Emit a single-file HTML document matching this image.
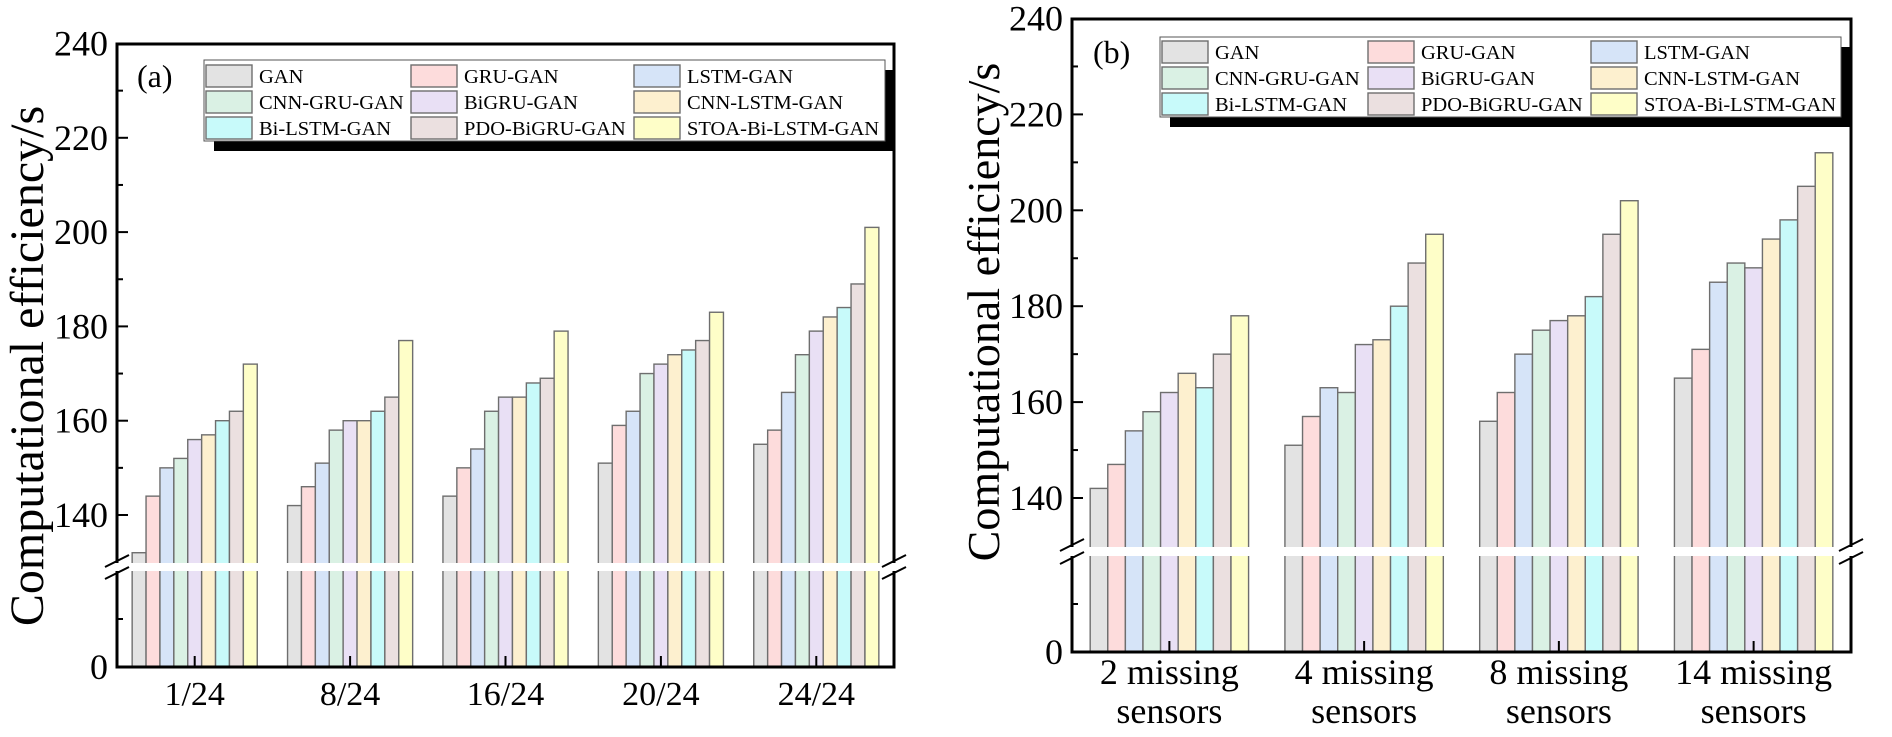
<!DOCTYPE html>
<html><head><meta charset="utf-8"><style>
html,body{margin:0;padding:0;background:#fff;}
svg{display:block;font-family:"Liberation Serif",serif;}
</style></head><body>
<svg id="c" width="1892" height="737"></svg>
<script>
const seriesNames=["GAN","GRU-GAN","LSTM-GAN","CNN-GRU-GAN","BiGRU-GAN","CNN-LSTM-GAN","Bi-LSTM-GAN","PDO-BiGRU-GAN","STOA-Bi-LSTM-GAN"];
const seriesColors=["#e3e3e3","#fddcdc","#d6e4f8","#daf1e4","#e9e0f5","#fdf0cf","#c8fafa","#ebe0e0","#fefec8"];
const catsA=["1/24","8/24","16/24","20/24","24/24"];
const catsB=[["2 missing","sensors"],["4 missing","sensors"],["8 missing","sensors"],["14 missing","sensors"]];
const ganA=[132,142,144,151,155];
const gruA=[144,146,150,159,158];
const lstmA=[150,151,154,162,166];
const cnnGruA=[152,158,162,170,174];
const biGruA=[156,160,165,172,179];
const cnnLstmA=[157,160,165,174,182];
const biLstmA=[160,162,168,175,184];
const pdoA=[162,165,169,177,189];
const stoaA=[172,177,179,183,201];
const ganB=[142,151,156,165];
const gruB=[147,157,162,171];
const lstmB=[154,163,170,185];
const cnnGruB=[158,162,175,189];
const biGruB=[162,172,177,188];
const cnnLstmB=[166,173,178,194];
const biLstmB=[163,180,182,198];
const pdoB=[170,189,195,205];
const stoaB=[178,195,202,212];
const ticksUpper=[140,160,180,200,220,240];
const minorUpper=[150,170,190,210,230];

const NS="http://www.w3.org/2000/svg";
const svg=document.getElementById('c');
function mk(tag,attrs,parent,text){const e=document.createElementNS(NS,tag);for(const k in attrs)e.setAttribute(k,attrs[k]);if(text!==undefined)e.textContent=text;(parent||svg).appendChild(e);return e;}

function panel(cfg){
  const g=mk('g',{});
  
  
  const y=v=>cfg.y140-(v-140)*cfg.per20/20;
  const n=cfg.cats.length, pitch=(cfg.right-cfg.left)/n;
  const bw=cfg.bw;
  cfg.data.forEach((arr,si)=>{
    arr.forEach((v,ci)=>{
      const cx=cfg.left+pitch*(ci+0.5);
      const x=cx-bw*4.5+si*bw;
      const top=y(v);
      const r=mk('rect',{x:x,y:top,width:bw,height:cfg.base-top,fill:seriesColors[si],stroke:'#6e6e6e','stroke-width':1.4},g);
      
      
    });
  });
  const gap=mk('rect',{x:cfg.left+2,y:cfg.gapTop,width:cfg.right-cfg.left-4,height:cfg.gapBot-cfg.gapTop,fill:'#fff'},g);
  
  
  const fr=mk('path',{d:`M${cfg.left},${cfg.gapTop} V${cfg.top} H${cfg.right} V${cfg.gapTop} M${cfg.left},${cfg.gapBot} V${cfg.base} H${cfg.right} V${cfg.gapBot}`,fill:'none',stroke:'#000','stroke-width':3},g);
  
  
  [cfg.left,cfg.right].forEach(xx=>{
    mk('line',{x1:xx-12,y1:cfg.gapTop+4,x2:xx+12,y2:cfg.gapTop-8,stroke:'#000','stroke-width':2},g);
    mk('line',{x1:xx-12,y1:cfg.gapBot+8,x2:xx+12,y2:cfg.gapBot-4,stroke:'#000','stroke-width':2},g);
  });
  ticksUpper.forEach(t=>{
    mk('line',{x1:cfg.left,x2:cfg.left+11,y1:y(t),y2:y(t),stroke:'#000','stroke-width':2},g);
    const l=mk('text',{x:cfg.left-9,y:y(t)+12,'text-anchor':'end','font-size':36},g,t);
    
    
  });
  minorUpper.forEach(t=>mk('line',{x1:cfg.left,x2:cfg.left+6,y1:y(t),y2:y(t),stroke:'#000','stroke-width':2},g));
  const midLow=(cfg.base+cfg.gapBot)/2;
  mk('line',{x1:cfg.left,x2:cfg.left+6,y1:midLow,y2:midLow,stroke:'#000','stroke-width':2},g);
  const z=mk('text',{x:cfg.left-9,y:cfg.base+12,'text-anchor':'end','font-size':36},g,'0');
  
  
  cfg.cats.forEach((c,ci)=>{
    const cx=cfg.left+pitch*(ci+0.5);
    mk('line',{x1:cx,x2:cx,y1:cfg.base,y2:cfg.base-11,stroke:'#000','stroke-width':2},g);
    const t=mk('text',{x:cx,'text-anchor':'middle','font-size':cfg.catFont},g);
    
    
    if(Array.isArray(c)){
      mk('tspan',{x:cx,y:cfg.base+32},t,c[0]);
      mk('tspan',{x:cx,y:cfg.base+71},t,c[1]);
    } else { t.setAttribute('y',cfg.base+38); t.textContent=c; }
  });
  const yt=mk('text',{transform:`translate(${cfg.titleX},${cfg.titleY}) rotate(-90)`,'text-anchor':'middle','font-size':cfg.titleFont},g,'Computational efficiency/s');
  
  
  const pl=mk('text',{x:cfg.letterX,y:cfg.letterY,'font-size':32},g,cfg.letter);
  
  
  const L=cfg.leg;
  const lg=mk('g',{},g);
  
  
  mk('rect',{x:L.x+10,y:L.y+10,width:L.w,height:L.h,fill:'#000'},lg);
  mk('rect',{x:L.x,y:L.y,width:L.w,height:L.h,fill:'#fff',stroke:'#555','stroke-width':1},lg);
  seriesNames.forEach((s,i)=>{
    const col=i%3,row=Math.floor(i/3);
    const sx=L.cols[col], ry=L.rows[row];
    const e=mk('g',{},lg);
    
    
    mk('rect',{x:sx,y:ry-11,width:46,height:22,fill:seriesColors[i],stroke:'#6e6e6e','stroke-width':1.4},e);
    mk('text',{x:sx+53,y:ry+7,'font-size':20.5},e,s);
  });
}

panel({name:'panel-a',left:117,right:894,top:44,base:667,y140:515,per20:94.3,gapTop:563,gapBot:571,bw:13.9,catFont:34,
  cats:catsA,data:[ganA,gruA,lstmA,cnnGruA,biGruA,cnnLstmA,biLstmA,pdoA,stoaA],titleX:43,titleY:366,titleFont:48,letter:'(a)',letterX:137,letterY:87,
  leg:{x:204,y:60,w:681,h:81,cols:[206,411,634],rows:[76,102,128]}});
panel({name:'panel-b',left:1072,right:1851,top:19,base:652,y140:498,per20:95.9,gapTop:547,gapBot:556,bw:17.6,catFont:36,
  cats:catsB,data:[ganB,gruB,lstmB,cnnGruB,biGruB,cnnLstmB,biLstmB,pdoB,stoaB],titleX:999,titleY:312,titleFont:46,letter:'(b)',letterX:1093,letterY:63,
  leg:{x:1160,y:37,w:681,h:80,cols:[1162,1368,1591],rows:[52,78,104]}});
</script>
</body></html>
